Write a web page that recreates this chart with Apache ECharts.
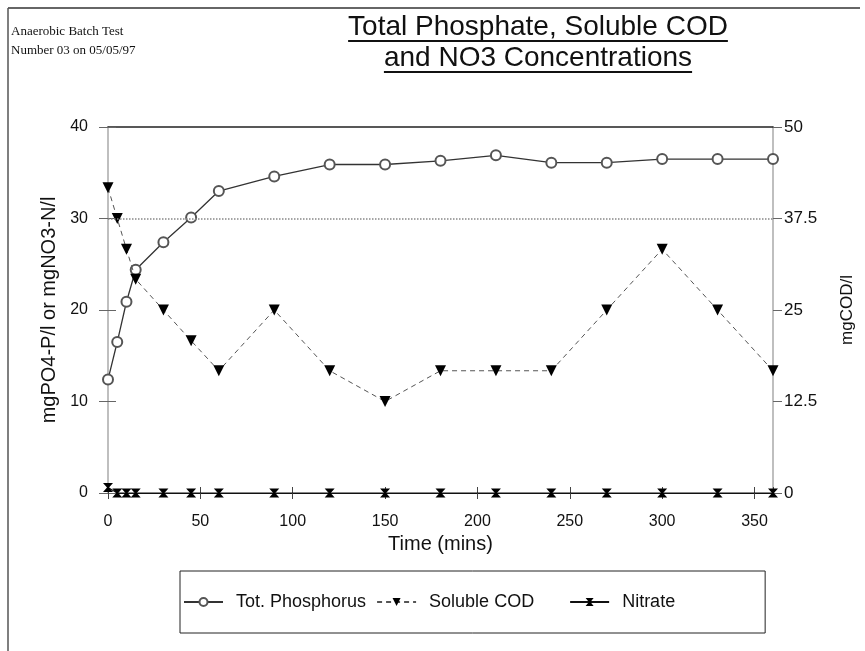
<!DOCTYPE html>
<html><head><meta charset="utf-8">
<script src="https://cdn.jsdelivr.net/npm/echarts@6/dist/echarts.min.js"></script>
<style>html,body{margin:0;padding:0;background:#fff}#c{width:865px;height:651px}</style>
</head><body><div id="c"></div>
<script>
const times = [0, 5, 10, 15, 30, 45, 60, 90, 120, 150, 180, 210, 240, 270, 300, 330, 360];
const phosphorus = [12.4, 16.5, 20.9, 24.4, 27.4, 30.1, 33.0, 34.6, 35.9, 35.9, 36.3, 36.9, 36.1, 36.1, 36.5, 36.5, 36.5];
const solubleCOD = [41.7, 37.5, 33.3, 29.2, 25.0, 20.8, 16.7, 25.0, 16.7, 12.5, 16.7, 16.7, 16.7, 25.0, 33.3, 25.0, 16.7];
const nitrate = [0.6, 0, 0, 0, 0, 0, 0, 0, 0, 0, 0, 0, 0, 0, 0, 0, 0];
const xTicks = [0, 50, 100, 150, 200, 250, 300, 350];
const leftTicks = [0, 10, 20, 30, 40];
const rightTicks = [0, 12.5, 25, 37.5, 50];
const seriesNames = ['Tot. Phosphorus', 'Soluble COD', 'Nitrate'];
const titleLines = ['Total Phosphate, Soluble COD', 'and NO3 Concentrations'];
const noteLines = ['Anaerobic Batch Test', 'Number 03 on 05/05/97'];
const xName = 'Time (mins)';
const leftName = 'mgPO4-P/l or mgNO3-N/l';
const rightName = 'mgCOD/l';

const pair = arr => times.map((t, i) => [t, arr[i]]);
const SANS = "'Liberation Sans', Arial, sans-serif";
const SERIF = "'Liberation Serif', 'Times New Roman', serif";

function textWidth(str, font) {
  const ctx = document.createElement('canvas').getContext('2d');
  ctx.font = font;
  return ctx.measureText(str).width;
}

const titleSize = 28, titleCx = 538, titleY = [27, 58];
const titleFont = titleSize + 'px ' + SANS;
const graphics = [
  { type: 'line', shape: { x1: 8, y1: 8, x2: 860, y2: 8 }, style: { stroke: '#333', lineWidth: 1.5 } },
  { type: 'line', shape: { x1: 8, y1: 8, x2: 8, y2: 651 }, style: { stroke: '#555', lineWidth: 1.5 } }
];
noteLines.forEach((s, i) => graphics.push({
  type: 'text', style: { text: s, x: 11, y: 32 + i * 19, font: '13px ' + SERIF, fill: '#111', textVerticalAlign: 'middle' }
}));
titleLines.forEach((s, i) => {
  const w = textWidth(s, titleFont);
  const uy = titleY[i] + 14;
  graphics.push({ type: 'text', style: { text: s, x: titleCx, y: titleY[i], font: titleFont, fill: '#111', textAlign: 'center', textVerticalAlign: 'middle' } });
  graphics.push({ type: 'line', shape: { x1: titleCx - w / 2, y1: uy, x2: titleCx + w / 2, y2: uy }, style: { stroke: '#111', lineWidth: 2 } });
});

const chart = echarts.init(document.getElementById('c'), null, { renderer: 'canvas' });
chart.setOption({
  animation: false,
  backgroundColor: '#fff',
  textStyle: { fontFamily: SANS },
  graphic: graphics,
  grid: { left: 108, right: 92, top: 127, bottom: 158, containLabel: false },
  legend: {
    left: 180, top: 571, orient: 'horizontal',
    padding: [22, 90, 22, 3],
    borderColor: '#222', borderWidth: 1,
    itemWidth: 39, itemHeight: 10, itemGap: 10,
    formatter: name => name === seriesNames[1] ? name + '\u00a0\u00a0\u00a0\u00a0\u00a0' : name,
    textStyle: { fontSize: 18, color: '#111', padding: [0, 0, 0, 8] },
    data: seriesNames
  },
  xAxis: [
    {
      type: 'value', position: 'bottom', min: xTicks[0], max: 360, interval: xTicks[1] - xTicks[0],
      axisLine: { show: true, onZero: false, lineStyle: { color: '#111', width: 1.2 } },
      axisTick: { show: true, length: 6, lineStyle: { color: '#444' } },
      axisLabel: { margin: 21, fontSize: 16, color: '#111', showMaxLabel: false },
      splitLine: { show: false },
      name: xName, nameLocation: 'middle', nameGap: 40,
      nameTextStyle: { fontSize: 20, color: '#111' }
    },
    {
      type: 'value', position: 'bottom', min: xTicks[0], max: 360, interval: xTicks[1] - xTicks[0],
      axisLine: { show: false, onZero: false }, axisTick: { show: true, inside: true, length: 6, lineStyle: { color: '#444' } },
      axisLabel: { show: false }, splitLine: { show: false }
    },
    {
      type: 'value', position: 'top', min: xTicks[0], max: 360,
      axisLine: { show: true, onZero: false, lineStyle: { color: '#222', width: 1.5 } },
      axisTick: { show: false }, axisLabel: { show: false }, splitLine: { show: false }
    }
  ],
  yAxis: [
    {
      type: 'value', position: 'left', min: leftTicks[0], max: leftTicks[leftTicks.length - 1], interval: leftTicks[1] - leftTicks[0],
      axisLine: { show: true, onZero: false, lineStyle: { color: '#aaa', width: 1.5 } },
      axisTick: { show: true, length: 9, lineStyle: { color: '#666' } },
      axisLabel: { margin: 20, fontSize: 16, color: '#111' },
      splitLine: { show: false },
      name: leftName, nameLocation: 'middle', nameGap: 40,
      nameTextStyle: { fontSize: 20, color: '#111' }
    },
    {
      type: 'value', position: 'right', min: rightTicks[0], max: rightTicks[rightTicks.length - 1], interval: rightTicks[1] - rightTicks[0],
      axisLine: { show: true, onZero: false, lineStyle: { color: '#aaa', width: 1.5 } },
      axisTick: { show: true, length: 9, lineStyle: { color: '#666' } },
      axisLabel: { margin: 11, fontSize: 17, color: '#111' },
      splitLine: { show: false },
      name: rightName, nameLocation: 'middle', nameGap: 66,
      nameTextStyle: { fontSize: 17, color: '#111' }
    },
    {
      type: 'value', position: 'left', min: leftTicks[0], max: leftTicks[leftTicks.length - 1], interval: leftTicks[1] - leftTicks[0],
      axisLine: { show: false }, axisTick: { show: true, inside: true, length: 8, lineStyle: { color: '#666' } },
      axisLabel: { show: false }, splitLine: { show: false }
    },
    {
      type: 'value', position: 'right', min: rightTicks[0], max: rightTicks[rightTicks.length - 1], interval: rightTicks[1] - rightTicks[0],
      axisLine: { show: false }, axisTick: { show: true, inside: true, length: 8, lineStyle: { color: '#666' } },
      axisLabel: { show: false }, splitLine: { show: false }
    }
  ],
  series: [
    {
      name: seriesNames[0], type: 'line', xAxisIndex: 0, yAxisIndex: 0,
      data: pair(phosphorus),
      symbol: 'emptyCircle', symbolSize: 10,
      itemStyle: { color: '#555', borderColor: '#555', borderWidth: 1.3 },
      lineStyle: { color: '#333', width: 1.3 },
      markLine: {
        silent: true, symbol: 'none', label: { show: false },
        lineStyle: { type: 'dotted', color: '#888', width: 1.5 },
        data: [{ yAxis: leftTicks[3] }]
      },
      z: 3
    },
    {
      name: seriesNames[1], type: 'line', xAxisIndex: 0, yAxisIndex: 1,
      data: pair(solubleCOD),
      symbol: 'triangle', symbolRotate: 180, symbolSize: 11,
      itemStyle: { color: '#000' },
      lineStyle: { color: '#555', width: 1, type: [5, 4] },
      z: 4
    },
    {
      name: seriesNames[2], type: 'line', xAxisIndex: 0, yAxisIndex: 0,
      data: pair(nitrate),
      symbol: 'path://M0,0 L10,0 L6,5 L10,10 L0,10 L4,5 Z', symbolSize: [10, 9], symbolKeepAspect: false,
      itemStyle: { color: '#000' },
      lineStyle: { color: '#111', width: 1.2 },
      z: 5
    }
  ]
});
</script>
</body></html>
